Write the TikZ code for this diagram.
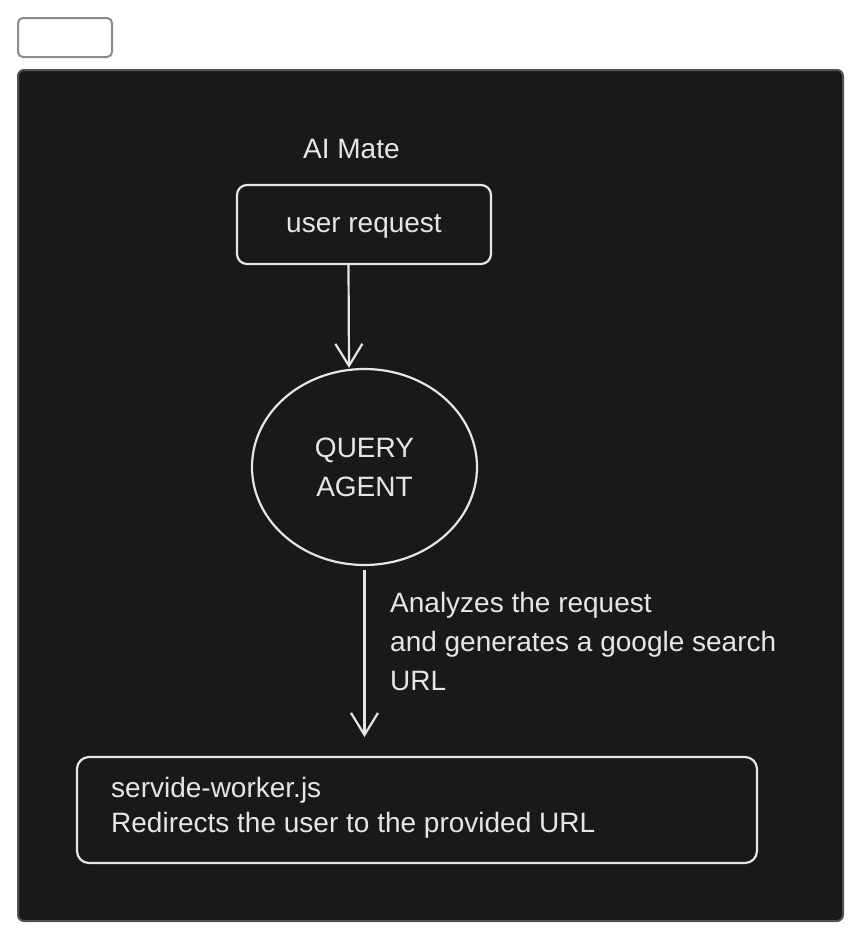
\documentclass[tikz,border=0pt]{standalone}
\usepackage{fontspec}
\setmainfont{Liberation Sans}
\usetikzlibrary{arrows.meta,shapes.geometric}
\definecolor{framebg}{RGB}{25,25,25}
\definecolor{frameline}{RGB}{78,83,89}
\definecolor{ink}{RGB}{230,230,230}
\definecolor{boxgray}{RGB}{138,138,138}
\begin{document}
\begin{tikzpicture}[x=1pt,y=-1pt,
  txt/.style={text=ink, font=\fontsize{28}{39}\selectfont, inner sep=0pt},
  sketch/.style={draw=ink, line width=2.2pt, inner sep=0pt},
  arr/.style={draw=ink, line width=2.2pt, -{Straight Barb[length=22pt,width=27pt]}}]
\useasboundingbox (0,0) rectangle (864,943);
% small tag box
\node[draw=boxgray, line width=2pt, fill=white, rounded corners=5pt,
      minimum width=94pt, minimum height=39pt, inner sep=0pt] (tag) at (65,37.5) {};
% dark frame
\node[draw=frameline, line width=2pt, fill=framebg, rounded corners=6pt,
      minimum width=825pt, minimum height=851pt, inner sep=0pt] (frame) at (430.5,495.5) {};
% title
\node[txt, anchor=base west] (title) at (303,158) {AI Mate};
% user request
\node[sketch, txt, draw=ink, rounded corners=10pt, minimum width=254pt, minimum height=79pt,
      text height=21pt, text depth=6pt] (ur) at (364,224.5) {user request};
% query agent
\node[sketch, txt, draw=ink, ellipse, minimum width=225pt, minimum height=196pt, align=center]
      (qa) at (364.5,467) {QUERY\\AGENT};
% bottom box
\node[sketch, rounded corners=12pt, minimum width=680pt, minimum height=106pt] (bx) at (417,810) {};
\node[txt, font=\fontsize{28}{35}\selectfont, anchor=base west, align=left] (bxt) at (111,832)
      {servide-worker.js\\Redirects the user to the provided URL};
% arrows
\draw[arr] ([xshift=-15.5pt]ur.south) -- ([xshift=-15.5pt]qa.north);
\coordinate (a2end) at (364.5,737);
\draw[arr] ([yshift=-4pt]qa.south) -- (a2end);
% label
\node[txt, anchor=base west, align=left] (lbl) at (390,690)
      {Analyzes the request\\and generates a google search\\URL};
\end{tikzpicture}
\end{document}
